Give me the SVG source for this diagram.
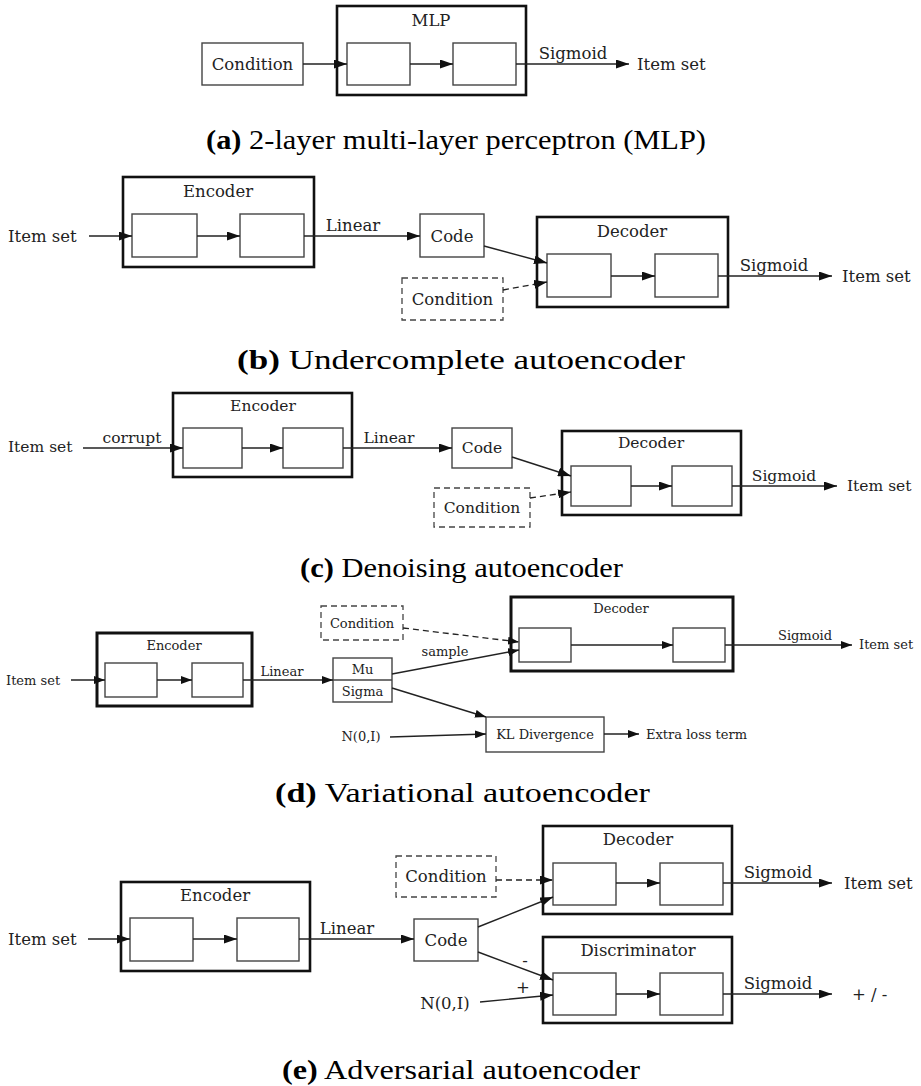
<svg xmlns="http://www.w3.org/2000/svg" width="921" height="1086" viewBox="0 0 921 1086">
<defs>
<style>
.ob{fill:#fff;stroke:#111;stroke-width:2.6}
.ib{fill:#fff;stroke:#444;stroke-width:1.4}
.db{fill:#fff;stroke:#444;stroke-width:1.3;stroke-dasharray:6,4}
.ln{fill:none;stroke:#222;stroke-width:1.4}
.dl{fill:none;stroke:#222;stroke-width:1.3;stroke-dasharray:6,4}
.t{font-family:'DejaVu Serif',serif;font-size:16.5px;fill:#222}
.s{font-family:'DejaVu Serif',serif;font-size:15.5px;fill:#222}
.m{font-family:'DejaVu Serif',serif;font-size:13px;fill:#222}
.c{text-anchor:middle;dominant-baseline:central}
.cap{font-family:'Liberation Serif',serif;font-size:27px;fill:#000;text-anchor:middle}
.capb{font-weight:bold}
</style>
<marker id="ah" markerUnits="userSpaceOnUse" markerWidth="13" markerHeight="9" refX="13" refY="4.5" orient="auto"><path d="M0,0 L13,4.5 L0,9 z" fill="#111"/></marker>
<marker id="as" markerUnits="userSpaceOnUse" markerWidth="11" markerHeight="8" refX="11" refY="4" orient="auto"><path d="M0,0 L11,4 L0,8 z" fill="#111"/></marker>
</defs>

<!-- Panel (a) -->
<g id="a-condition"><rect class="ib" x="202" y="43" width="101" height="42"/><text class="t c" x="252.5" y="64">Condition</text></g>
<g id="a-mlp"><rect class="ob" x="337" y="6" width="189" height="89"/><text class="t c" x="431" y="20">MLP</text>
<rect class="ib" x="347" y="43" width="63" height="42"/><rect class="ib" x="453" y="43" width="63" height="42"/></g>
<g id="a-out"><text class="t" x="637" y="64" dominant-baseline="central">Item set</text></g>
<g id="a-connectors">
<path class="ln" d="M303,64 L347,64" marker-end="url(#ah)"/>
<path class="ln" d="M410,64 L453,64" marker-end="url(#ah)"/>
<path class="ln" d="M516,64 L629,64" marker-end="url(#ah)"/>
<text class="t" x="573" y="59" text-anchor="middle">Sigmoid</text>
</g>
<text class="cap" x="456" y="149" textLength="500" lengthAdjust="spacingAndGlyphs"><tspan class="capb">(a)</tspan> 2-layer multi-layer perceptron (MLP)</text>

<!-- Panel (b) -->
<g id="b-in"><text class="t" x="8" y="236" dominant-baseline="central">Item set</text></g>
<g id="b-encoder"><rect class="ob" x="123" y="177" width="191" height="90"/><text class="t c" x="218" y="191">Encoder</text>
<rect class="ib" x="132" y="214" width="65" height="43"/><rect class="ib" x="240" y="214" width="64" height="43"/></g>
<g id="b-code"><rect class="ib" x="420" y="214" width="64" height="43"/><text class="t c" x="452" y="236">Code</text></g>
<g id="b-condition"><rect class="db" x="402" y="278" width="101" height="42"/><text class="t c" x="452.5" y="299">Condition</text></g>
<g id="b-decoder"><rect class="ob" x="537" y="217" width="191" height="90"/><text class="t c" x="632" y="231">Decoder</text>
<rect class="ib" x="547" y="254" width="64" height="43"/><rect class="ib" x="655" y="254" width="63" height="43"/></g>
<g id="b-out"><text class="t" x="842" y="276" dominant-baseline="central">Item set</text></g>
<g id="b-connectors">
<path class="ln" d="M89,236 L132,236" marker-end="url(#ah)"/>
<path class="ln" d="M197,236 L240,236" marker-end="url(#ah)"/>
<path class="ln" d="M304,236 L420,236" marker-end="url(#ah)"/>
<text class="t" x="353" y="231" text-anchor="middle">Linear</text>
<path class="ln" d="M484,246 L547,263" marker-end="url(#ah)"/>
<path class="dl" d="M503,290 L547,282" marker-end="url(#ah)"/>
<path class="ln" d="M611,276 L655,276" marker-end="url(#ah)"/>
<path class="ln" d="M718,276 L832,276" marker-end="url(#ah)"/>
<text class="t" x="774" y="271" text-anchor="middle">Sigmoid</text>
</g>
<text class="cap" x="461" y="369" textLength="448" lengthAdjust="spacingAndGlyphs"><tspan class="capb">(b)</tspan> Undercomplete autoencoder</text>

<!-- Panel (c) -->
<g id="c-in"><text class="s" x="8" y="447" dominant-baseline="central">Item set</text></g>
<g id="c-encoder"><rect class="ob" x="173" y="393" width="179" height="84"/><text class="s c" x="263" y="406">Encoder</text>
<rect class="ib" x="183" y="428" width="59" height="40"/><rect class="ib" x="283" y="428" width="60" height="40"/></g>
<g id="c-code"><rect class="ib" x="452" y="428" width="60" height="40"/><text class="s c" x="482" y="448">Code</text></g>
<g id="c-condition"><rect class="db" x="434" y="488" width="96" height="39"/><text class="s c" x="482" y="507.5">Condition</text></g>
<g id="c-decoder"><rect class="ob" x="562" y="431" width="179" height="84"/><text class="s c" x="651" y="443">Decoder</text>
<rect class="ib" x="571" y="466" width="60" height="40"/><rect class="ib" x="672" y="466" width="60" height="40"/></g>
<g id="c-out"><text class="s" x="847" y="486" dominant-baseline="central">Item set</text></g>
<g id="c-connectors">
<path class="ln" d="M83,448 L183,448" marker-end="url(#ah)"/>
<text class="s" x="132" y="443" text-anchor="middle">corrupt</text>
<path class="ln" d="M242,448 L283,448" marker-end="url(#ah)"/>
<path class="ln" d="M343,448 L452,448" marker-end="url(#ah)"/>
<text class="s" x="389" y="443" text-anchor="middle">Linear</text>
<path class="ln" d="M512,457 L571,476" marker-end="url(#ah)"/>
<path class="dl" d="M530,498 L571,492" marker-end="url(#ah)"/>
<path class="ln" d="M631,486 L672,486" marker-end="url(#ah)"/>
<path class="ln" d="M732,486 L837,486" marker-end="url(#ah)"/>
<text class="s" x="784" y="481" text-anchor="middle">Sigmoid</text>
</g>
<text class="cap" x="461.5" y="577" textLength="323" lengthAdjust="spacingAndGlyphs"><tspan class="capb">(c)</tspan> Denoising autoencoder</text>

<!-- Panel (d) -->
<g id="d-in"><text class="m" x="6" y="680" dominant-baseline="central">Item set</text></g>
<g id="d-encoder"><rect class="ob" x="97" y="633" width="155" height="73" style="stroke-width:3"/><text class="m c" x="174" y="645">Encoder</text>
<rect class="ib" x="105" y="663" width="52" height="34"/><rect class="ib" x="192" y="663" width="51" height="34"/></g>
<g id="d-musigma"><rect class="ib" x="333" y="658" width="59" height="44"/><path class="ib" d="M333,680 L392,680"/><text class="m c" x="362.5" y="669">Mu</text><text class="m c" x="362.5" y="691">Sigma</text></g>
<g id="d-condition"><rect class="db" x="321" y="606" width="82" height="34"/><text class="m c" x="362" y="623">Condition</text></g>
<g id="d-decoder"><rect class="ob" x="511" y="597" width="222" height="74" style="stroke-width:3"/><text class="m c" x="621" y="608">Decoder</text>
<rect class="ib" x="519" y="628" width="52" height="34"/><rect class="ib" x="673" y="628" width="52" height="34"/></g>
<g id="d-out"><text class="m" x="859" y="644" dominant-baseline="central">Item set</text></g>
<g id="d-noise"><text class="m c" x="361" y="736">N(0,I)</text></g>
<g id="d-kl"><rect class="ib" x="486" y="717" width="118" height="35"/><text class="m c" x="545" y="734.5">KL Divergence</text></g>
<g id="d-loss"><text class="m" x="646" y="734" dominant-baseline="central">Extra loss term</text></g>
<g id="d-connectors">
<path class="ln" d="M71,680 L105,680" marker-end="url(#as)"/>
<path class="ln" d="M157,680 L192,680" marker-end="url(#as)"/>
<path class="ln" d="M243,680 L333,680" marker-end="url(#as)"/>
<text class="m" x="282" y="676" text-anchor="middle">Linear</text>
<path class="dl" d="M403,628 L519,642" marker-end="url(#as)"/>
<path class="ln" d="M392,674 L519,650" marker-end="url(#as)"/>
<text class="m" x="445" y="656" text-anchor="middle">sample</text>
<path class="ln" d="M392,688 L486,717" marker-end="url(#as)"/>
<path class="ln" d="M390,737 L486,734" marker-end="url(#as)"/>
<path class="ln" d="M604,734 L639,734" marker-end="url(#as)"/>
<path class="ln" d="M571,645 L673,645" marker-end="url(#as)"/>
<path class="ln" d="M725,645 L852,645" marker-end="url(#as)"/>
<text class="m" x="805" y="640" text-anchor="middle">Sigmoid</text>
</g>
<text class="cap" x="462.5" y="802" textLength="375" lengthAdjust="spacingAndGlyphs"><tspan class="capb">(d)</tspan> Variational autoencoder</text>

<!-- Panel (e) -->
<g id="e-in"><text class="t" x="8" y="939" dominant-baseline="central">Item set</text></g>
<g id="e-encoder"><rect class="ob" x="121" y="882" width="189" height="89"/><text class="t c" x="215" y="895">Encoder</text>
<rect class="ib" x="130" y="918" width="63" height="43"/><rect class="ib" x="237" y="918" width="62" height="43"/></g>
<g id="e-code"><rect class="ib" x="414" y="919" width="64" height="42"/><text class="t c" x="446" y="940">Code</text></g>
<g id="e-condition"><rect class="db" x="396" y="856" width="100" height="41"/><text class="t c" x="446" y="876.5">Condition</text></g>
<g id="e-decoder"><rect class="ob" x="543" y="826" width="189" height="88"/><text class="t c" x="638" y="839">Decoder</text>
<rect class="ib" x="553" y="863" width="63" height="42"/><rect class="ib" x="660" y="863" width="63" height="42"/></g>
<g id="e-discriminator"><rect class="ob" x="543" y="937" width="189" height="86"/><text class="t c" x="638" y="950">Discriminator</text>
<rect class="ib" x="553" y="973" width="63" height="42"/><rect class="ib" x="660" y="973" width="63" height="42"/></g>
<g id="e-out1"><text class="t" x="844" y="883" dominant-baseline="central">Item set</text></g>
<g id="e-out2"><text class="t" x="852" y="994" dominant-baseline="central">+ / -</text></g>
<g id="e-noise"><text class="t c" x="445" y="1003">N(0,I)</text></g>
<g id="e-connectors">
<path class="ln" d="M88,939 L130,939" marker-end="url(#ah)"/>
<path class="ln" d="M193,939 L237,939" marker-end="url(#ah)"/>
<path class="ln" d="M299,939 L414,939" marker-end="url(#ah)"/>
<text class="t" x="347" y="934" text-anchor="middle">Linear</text>
<path class="dl" d="M496,880 L553,880" marker-end="url(#ah)"/>
<path class="ln" d="M478,927 L553,897" marker-end="url(#ah)"/>
<path class="ln" d="M616,883 L660,883" marker-end="url(#ah)"/>
<path class="ln" d="M723,883 L832,883" marker-end="url(#ah)"/>
<text class="t" x="778" y="878" text-anchor="middle">Sigmoid</text>
<path class="ln" d="M478,952 L553,980" marker-end="url(#ah)"/>
<text class="t c" x="525" y="960">-</text>
<path class="ln" d="M480,1002 L553,995" marker-end="url(#ah)"/>
<text class="t c" x="523" y="987">+</text>
<path class="ln" d="M616,994 L660,994" marker-end="url(#ah)"/>
<path class="ln" d="M723,994 L832,994" marker-end="url(#ah)"/>
<text class="t" x="778" y="989" text-anchor="middle">Sigmoid</text>
</g>
<text class="cap" x="461" y="1079" textLength="358" lengthAdjust="spacingAndGlyphs"><tspan class="capb">(e)</tspan> Adversarial autoencoder</text>
</svg>
